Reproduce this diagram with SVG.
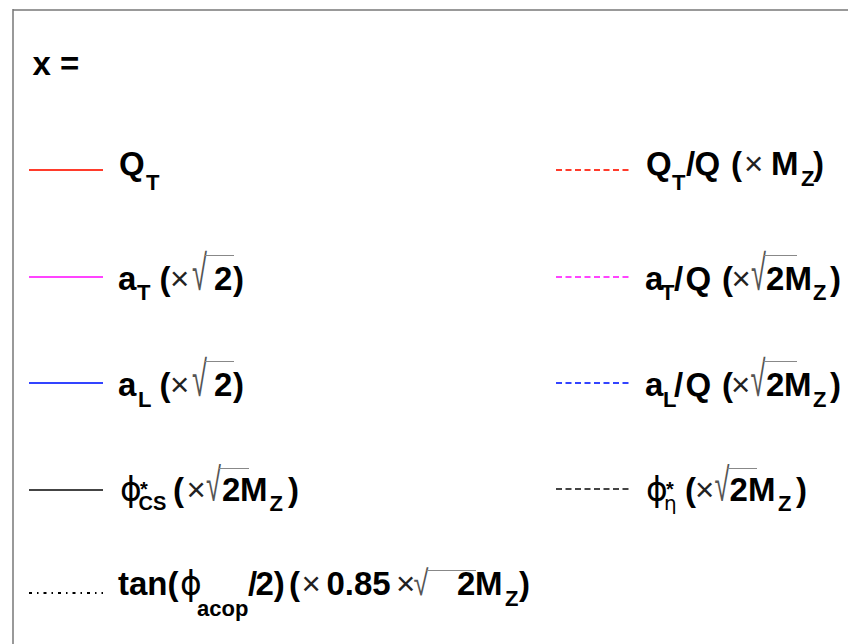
<svg xmlns="http://www.w3.org/2000/svg" width="848" height="644" viewBox="0 0 848 644">
<style>
.t{font-family:"Liberation Sans",Arial,Helvetica,sans-serif;font-weight:bold;font-size:33px;fill:#000}
.s{font-size:22px}
.ss{font-size:20px}
.r{font-weight:normal;fill:#222}
.rad{font-family:"Liberation Sans",Arial,sans-serif;font-weight:normal;font-size:34px;fill:#555}
.g{font-family:"DejaVu Sans","Liberation Sans",sans-serif;font-weight:normal}
.ov{stroke:#888;stroke-width:1;fill:none}
.ln{stroke-width:2;fill:none}
.dsh{stroke-dasharray:6 3.5}
</style>
<rect x="0" y="0" width="848" height="644" fill="#fff"/>
<line x1="13" y1="10" x2="848" y2="10" stroke="#999" stroke-width="2"/>
<line x1="13" y1="9" x2="13" y2="644" stroke="#777" stroke-width="1.5"/>

<g id="title"><text class="t" x="32.5" y="75">x =</text></g>

<g id="entry-qt">
<line class="ln" x1="29" y1="170" x2="103" y2="170" stroke="#ff3b2b"/>
<text class="t"><tspan x="119" y="175">Q</tspan><tspan class="s" x="146" y="190">T</tspan></text>
</g>
<g id="entry-qtq">
<line class="ln dsh" x1="556" y1="170" x2="631" y2="170" stroke="#ff3b2b"/>
<text class="t"><tspan x="646" y="175">Q</tspan><tspan class="s" x="672" y="190">T</tspan><tspan x="686" y="175">/</tspan><tspan x="694.5" y="175">Q </tspan><tspan x="731" y="175">(</tspan><tspan class="r" x="744" y="175">× </tspan><tspan x="771" y="175">M</tspan><tspan class="s" x="801" y="186">Z</tspan><tspan x="813" y="175">)</tspan></text>
</g>

<g id="entry-at">
<line class="ln" x1="29" y1="277" x2="103" y2="277" stroke="#ff44ff"/>
<text class="t"><tspan x="118" y="290">a</tspan><tspan class="s" x="137" y="300">T </tspan><tspan x="159.5" y="290">(</tspan><tspan class="r" x="170" y="290">×</tspan><tspan x="214" y="290">2</tspan><tspan x="233" y="290">)</tspan></text>
<text class="rad" transform="translate(192,290) scale(0.8,1.45)">√</text>
<line class="ov" x1="205" y1="255.5" x2="234" y2="255.5"/>
</g>
<g id="entry-atq">
<line class="ln dsh" x1="556" y1="277" x2="631" y2="277" stroke="#ff44ff"/>
<text class="t"><tspan x="645" y="290">a</tspan><tspan class="s" x="661" y="300">T</tspan><tspan x="674" y="290">/</tspan><tspan x="685.5" y="290">Q </tspan><tspan x="722" y="290">(</tspan><tspan class="r" x="731.5" y="290">×</tspan><tspan x="766" y="290">2</tspan><tspan x="784.5" y="290">M</tspan><tspan class="s" x="813" y="300">Z</tspan><tspan x="830" y="290">)</tspan></text>
<text class="rad" transform="translate(751,290) scale(0.8,1.45)">√</text>
<line class="ov" x1="764" y1="255.5" x2="797" y2="255.5"/>
</g>

<g id="entry-al">
<line class="ln" x1="29" y1="383" x2="103" y2="383" stroke="#3344ff"/>
<text class="t"><tspan x="118" y="396">a</tspan><tspan class="s" x="138" y="407">L </tspan><tspan x="159.5" y="396">(</tspan><tspan class="r" x="170" y="396">×</tspan><tspan x="214" y="396">2</tspan><tspan x="233" y="396">)</tspan></text>
<text class="rad" transform="translate(192,396) scale(0.8,1.45)">√</text>
<line class="ov" x1="205" y1="361.5" x2="234" y2="361.5"/>
</g>
<g id="entry-alq">
<line class="ln dsh" x1="556" y1="383" x2="631" y2="383" stroke="#3344ff"/>
<text class="t"><tspan x="645" y="396">a</tspan><tspan class="s" x="663" y="407">L</tspan><tspan x="674" y="396">/</tspan><tspan x="685.5" y="396">Q </tspan><tspan x="722" y="396">(</tspan><tspan class="r" x="731" y="396">×</tspan><tspan x="766" y="396">2</tspan><tspan x="784" y="396">M</tspan><tspan class="s" x="813" y="407">Z</tspan><tspan x="830" y="396">)</tspan></text>
<text class="rad" transform="translate(750.5,396) scale(0.8,1.45)">√</text>
<line class="ov" x1="763.5" y1="361.5" x2="797" y2="361.5"/>
</g>

<g id="entry-phics">
<line class="ln" x1="29" y1="490" x2="103" y2="490" stroke="#444"/>
<text class="t"><tspan class="g" x="120" y="501">ϕ</tspan><tspan class="ss" x="140" y="496">*</tspan><tspan class="ss" x="138.5" y="510">CS </tspan><tspan x="173" y="501">(</tspan><tspan class="r" x="186.5" y="501">×</tspan><tspan x="222" y="501">2</tspan><tspan x="240" y="501">M</tspan><tspan class="s" x="269.5" y="511">Z</tspan><tspan x="288" y="501">)</tspan></text>
<text class="rad" transform="translate(206,501) scale(0.8,1.37)">√</text>
<line class="ov" x1="219" y1="468.5" x2="249" y2="468.5"/>
</g>
<g id="entry-phieta">
<line class="ln dsh" x1="556" y1="489" x2="631" y2="489" stroke="#444"/>
<text class="t"><tspan class="g" x="646" y="501">ϕ</tspan><tspan class="ss" x="666" y="496">*</tspan><tspan class="ss g" x="664" y="510">η </tspan><tspan x="685" y="501">(</tspan><tspan class="r" x="695" y="501">×</tspan><tspan x="729.5" y="501">2</tspan><tspan x="748" y="501">M</tspan><tspan class="s" x="778" y="511">Z</tspan><tspan x="796" y="501">)</tspan></text>
<text class="rad" transform="translate(714.5,501) scale(0.8,1.37)">√</text>
<line class="ov" x1="727.5" y1="468.5" x2="757" y2="468.5"/>
</g>

<g id="entry-tan">
<line class="ln" x1="29" y1="593" x2="103" y2="593" stroke="#000" stroke-dasharray="3 5 1.5 5"/>
<text class="t"><tspan x="118" y="595">tan(</tspan><tspan class="g" x="180" y="595">ϕ</tspan><tspan class="s" x="197" y="616">acop</tspan><tspan x="248" y="595">/</tspan><tspan x="255.5" y="595">2) </tspan><tspan x="289" y="595">(</tspan><tspan class="r" x="301.5" y="595">× </tspan><tspan x="326.5" y="595">0.85 </tspan><tspan class="r" x="396" y="595">×</tspan><tspan x="457" y="595">2</tspan><tspan x="475" y="595">M</tspan><tspan class="s" x="505" y="606">Z</tspan><tspan x="519" y="595">)</tspan></text>
<text class="rad" transform="translate(413.5,595) scale(0.8,1.04)">√</text>
<line class="ov" x1="426.5" y1="570.5" x2="476" y2="570.5"/>
</g>
</svg>
